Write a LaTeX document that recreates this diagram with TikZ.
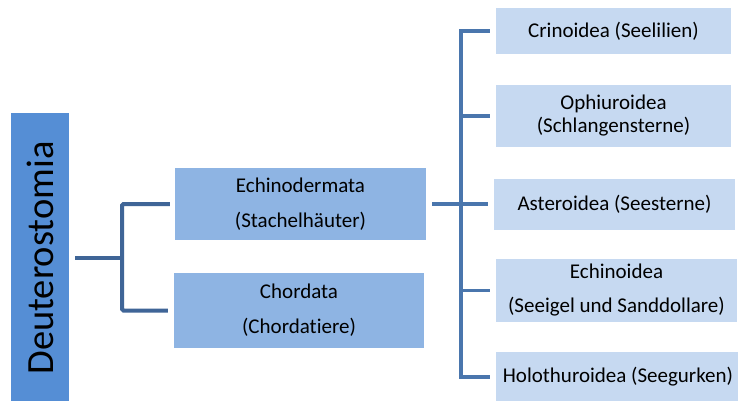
\documentclass[tikz,border=0pt]{standalone}
\usepackage{fontspec}
\setmainfont{Carlito}[Ligatures=NoCommon]
\definecolor{deutblue}{HTML}{558ED5}
\definecolor{midblue}{HTML}{8EB4E3}
\definecolor{lightblue}{HTML}{C6D9F1}
\definecolor{connA}{HTML}{3F6597}
\definecolor{connB}{HTML}{4A76AD}
\begin{document}
\begin{tikzpicture}[x=1pt,y=-1pt,
  box/.style={rectangle,inner sep=0pt,anchor=center,align=center,text=black},
  midbox/.style={box,fill=midblue,font=\fontsize{21}{35}\selectfont},
  smallbox/.style={box,fill=lightblue,font=\fontsize{21}{34}\selectfont},
  connL/.style={draw=connA,line width=4pt,rounded corners=1.5pt},
  connR/.style={draw=connB,line width=3.6pt}]
\useasboundingbox (0,0) rectangle (738,400);
\fill[white] (0,0) rectangle (738,400);
% root
\node[box,fill=deutblue,minimum width=58pt,minimum height=288pt] (deut) at (40,257) {};
\node[rotate=90,font=\fontsize{38.5}{40}\selectfont] (deuttext) at (40,258) {Deuterostomia};
% second level
\node[midbox,minimum width=251pt,minimum height=72pt] (echi) at (300.5,204) {Echinodermata\\(Stachelhäuter)};
\node[midbox,minimum width=250pt,minimum height=75pt] (chord) at (299,310.5) {Chordata\\(Chordatiere)};
% third level
\node[smallbox,minimum width=235pt,minimum height=46pt] (crin) at (613.5,31) {Crinoidea (Seelilien)};
\node[smallbox,minimum width=235pt,minimum height=62pt,font=\fontsize{21}{23}\selectfont] (ophi) at (613.5,116) {Ophiuroidea\\(Schlangensterne)};
\node[smallbox,minimum width=241pt,minimum height=51pt] (aster) at (614.5,204) {Asteroidea (Seesterne)};
\node[smallbox,minimum width=241pt,minimum height=63pt] (echinoi) at (616.5,290.5) {Echinoidea\\(Seeigel und Sanddollare)};
\node[smallbox,minimum width=244pt,minimum height=50pt] (holo) at (618,377) {Holothuroidea (Seegurken)};
% junctions
\coordinate (jL) at (122,258);
\coordinate (jR) at (461,204);
% left connectors
\draw[connL] ([xshift=6pt]deut.east |- jL) -- (jL);
\draw[connL] ([xshift=-5pt]echi.west) -| (jL |- chord.west) -- ([xshift=-6pt]chord.west);
% right connectors
\draw[connR] ([xshift=6pt]echi.east) -- ([xshift=-6pt]aster.west);
\draw[connR] ([xshift=-6pt]crin.west) -| (jR |- holo.west) -- ([xshift=-6pt]holo.west);
\draw[connR] ([xshift=-6pt]ophi.west) -- (jR |- ophi.west);
\draw[connR] ([xshift=-6pt]echinoi.west) -- (jR |- echinoi.west);
\end{tikzpicture}
\end{document}
